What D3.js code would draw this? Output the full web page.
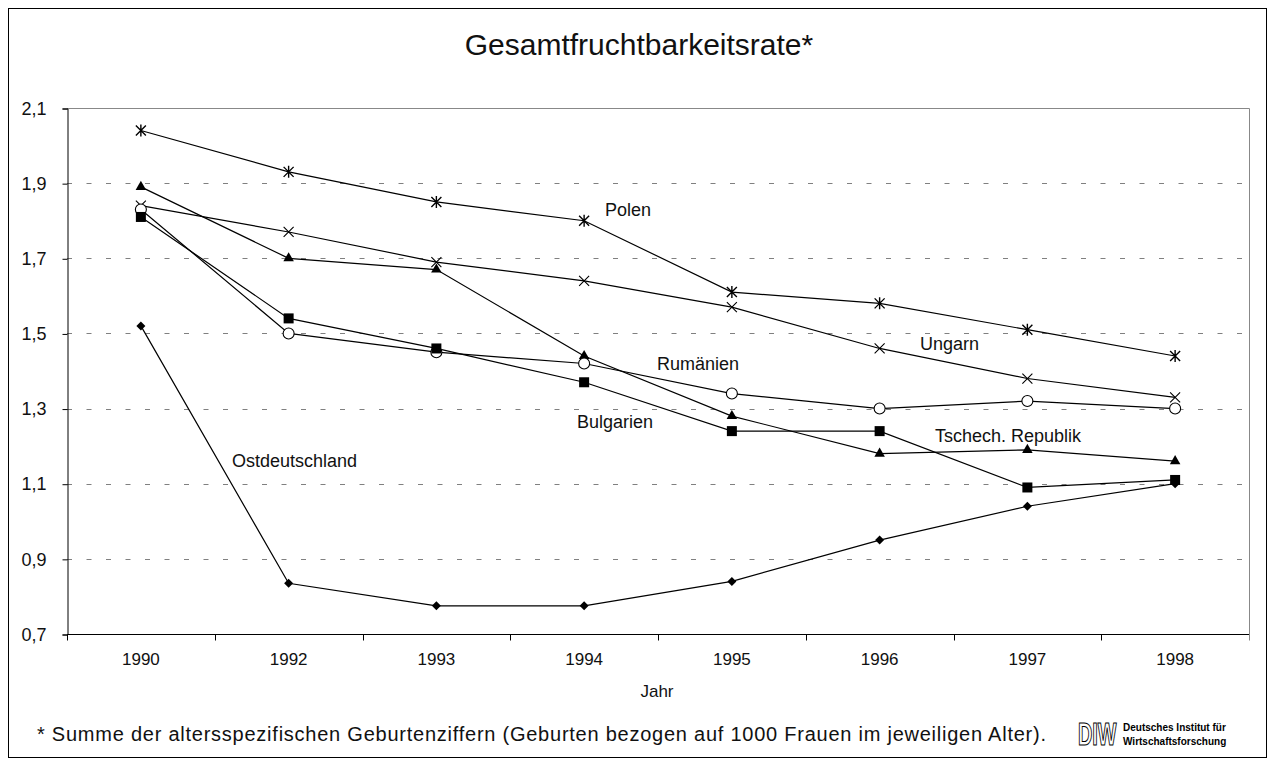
<!DOCTYPE html>
<meta charset="utf-8">
<body style="margin:0;background:#fff">
<svg width="1271" height="767"></svg>
<script src="https://d3js.org/d3.v7.min.js"></script>
<script>

var years = ['1990', '1992', '1993', '1994', '1995', '1996', '1997', '1998'];
var yTicks = [0.7, 0.9, 1.1, 1.3, 1.5, 1.7, 1.9, 2.1];

var polen        = [2.04, 1.93, 1.85, 1.80, 1.61, 1.58, 1.51, 1.44];
var ungarn       = [1.84, 1.77, 1.69, 1.64, 1.57, 1.46, 1.38, 1.33];
var tschechien   = [1.89, 1.70, 1.67, 1.44, 1.28, 1.18, 1.19, 1.16];
var rumaenien    = [1.83, 1.50, 1.45, 1.42, 1.34, 1.30, 1.32, 1.30];
var bulgarien    = [1.81, 1.54, 1.46, 1.37, 1.24, 1.24, 1.09, 1.11];
var ostdeutsch   = [1.52, 0.835, 0.775, 0.775, 0.84, 0.95, 1.04, 1.10];

var series = [
  {name: 'Polen', values: polen, marker: 'star', lx: 605, ly: 216},
  {name: 'Ungarn', values: ungarn, marker: 'cross', lx: 920, ly: 350},
  {name: 'Tschech. Republik', values: tschechien, marker: 'triangle', lx: 935, ly: 442},
  {name: 'Rumänien', values: rumaenien, marker: 'circle', lx: 657, ly: 370},
  {name: 'Bulgarien', values: bulgarien, marker: 'square', lx: 577, ly: 428},
  {name: 'Ostdeutschland', values: ostdeutsch, marker: 'diamond', lx: 232, ly: 467}
];

var font = '"Liberation Sans", Arial, sans-serif';
var svg = d3.select('svg').style('font-family', font);

// outer frame
svg.append('rect')
  .attr('x', 8.5).attr('y', 8.5)
  .attr('width', 1258).attr('height', 749)
  .attr('fill', 'none').attr('stroke', '#000').attr('stroke-width', 1);

svg.append('text')
  .attr('x', 639).attr('y', 55)
  .attr('text-anchor', 'middle')
  .style('font-size', '30px')
  .attr('fill', '#111')
  .text('Gesamtfruchtbarkeitsrate*');

var plotL = 67, plotR = 1249, plotT = 108, plotB = 634;

var x = d3.scaleBand().domain(years).range([plotL, plotR]);
var y = d3.scaleLinear().domain([0.7, 2.1]).range([plotB, plotT]);

// plot area border (grey top/right)
svg.append('path')
  .attr('d', 'M' + plotL + ',' + (plotT + 0.5) + 'H' + (plotR + 0.5) + 'V' + plotB)
  .attr('fill', 'none').attr('stroke', '#888');

// dashed grid
svg.append('g').selectAll('line')
  .data(yTicks.slice(1, -1))
  .join('line')
  .attr('x1', plotL).attr('x2', plotR)
  .attr('y1', function(d) { return Math.round(y(d)) + 0.5; })
  .attr('y2', function(d) { return Math.round(y(d)) + 0.5; })
  .attr('stroke', '#808080')
  .attr('stroke-dasharray', '5,14.5');

// y axis
var yAxis = svg.append('g')
  .attr('transform', 'translate(' + (plotL + 0.5) + ',0.5)')
  .call(d3.axisLeft(y).tickValues(yTicks).tickSize(5).tickPadding(16)
    .tickFormat(function(d) { return d3.format('.1f')(d).replace('.', ','); }));
yAxis.selectAll('text').style('font-size', '18px').style('font-family', font).attr('fill', '#111');
yAxis.select('.domain').attr('stroke', '#000');

// x axis
var xAxis = svg.append('g')
  .attr('transform', 'translate(0,' + (plotB + 0.5) + ')')
  .call(d3.axisBottom(x).tickSize(0).tickPadding(18));
xAxis.selectAll('text').style('font-size', '17px').style('font-family', font).attr('fill', '#111');
xAxis.select('.domain').attr('d', 'M' + plotL + ',0H' + (plotR + 0.5)).attr('stroke', '#000');
xAxis.selectAll('.sep')
  .data(d3.range(years.length + 1))
  .join('line')
  .attr('class', 'sep')
  .attr('x1', function(i) { return Math.round(plotL + i * x.step()) + 0.5; })
  .attr('x2', function(i) { return Math.round(plotL + i * x.step()) + 0.5; })
  .attr('y1', 0).attr('y2', 6)
  .attr('stroke', function(i) { return i === years.length ? '#888' : '#000'; });

svg.append('text')
  .attr('x', 657).attr('y', 697)
  .attr('text-anchor', 'middle')
  .style('font-size', '17px')
  .attr('fill', '#111')
  .text('Jahr');

// lines
var cx = function(d, i) { return x(years[i]) + x.bandwidth() / 2; };
var line = d3.line().x(cx).y(function(d) { return y(d); });

var lineG = svg.append('g');
series.forEach(function(s) {
  lineG.append('path')
    .attr('d', line(s.values))
    .attr('fill', 'none')
    .attr('stroke', '#000')
    .attr('stroke-width', 1.2);
});

// markers
var markG = svg.append('g');
series.forEach(function(s) {
  var g = markG.append('g').selectAll('g')
    .data(s.values)
    .join('g')
    .attr('transform', function(d, i) { return 'translate(' + cx(d, i) + ',' + y(d) + ')'; });
  if (s.marker === 'star') {
    g.append('path').attr('d', 'M-5,-5L5,5M-5,5L5,-5M0,-6V6')
      .attr('stroke', '#000').attr('stroke-width', 1.4);
  } else if (s.marker === 'cross') {
    g.append('path').attr('d', 'M-5,-5L5,5M-5,5L5,-5')
      .attr('stroke', '#000').attr('stroke-width', 1.1);
  } else if (s.marker === 'triangle') {
    g.append('path').attr('d', d3.symbol(d3.symbolTriangle, 48)).attr('fill', '#000');
  } else if (s.marker === 'circle') {
    g.append('circle').attr('r', 5.5).attr('fill', '#fff').attr('stroke', '#000').attr('stroke-width', 1.1);
  } else if (s.marker === 'square') {
    g.append('rect').attr('x', -5).attr('y', -5).attr('width', 10).attr('height', 10).attr('fill', '#000');
  } else if (s.marker === 'diamond') {
    g.append('path').attr('d', 'M0,-4.5L4.5,0L0,4.5L-4.5,0Z').attr('fill', '#000');
  }
});

// series labels
svg.append('g').selectAll('text')
  .data(series)
  .join('text')
  .attr('x', function(d) { return d.lx; })
  .attr('y', function(d) { return d.ly; })
  .style('font-size', '18px')
  .attr('fill', '#111')
  .text(function(d) { return d.name; });

// footnote
svg.append('text')
  .attr('x', 37).attr('y', 741)
  .style('font-size', '20px')
  .attr('fill', '#111')
  .attr('textLength', 1009).attr('lengthAdjust', 'spacing')
  .text('* Summe der altersspezifischen Geburtenziffern (Geburten bezogen auf 1000 Frauen im jeweiligen Alter).');

// DIW logo
var logo = svg.append('g').attr('transform', 'translate(1078,745)');
logo.append('text')
  .attr('transform', 'scale(0.64,1)')
  .style('font-size', '31px').style('font-weight', 'bold')
  .attr('fill', '#fff').attr('stroke', '#000').attr('stroke-width', 1.2)
  .text('DIW');
logo.append('text')
  .attr('x', 45).attr('y', -14)
  .style('font-size', '10px').style('font-weight', 'bold')
  .text('Deutsches Institut für');
logo.append('text')
  .attr('x', 45).attr('y', 0)
  .style('font-size', '10px').style('font-weight', 'bold')
  .text('Wirtschaftsforschung');

</script>
</body>
